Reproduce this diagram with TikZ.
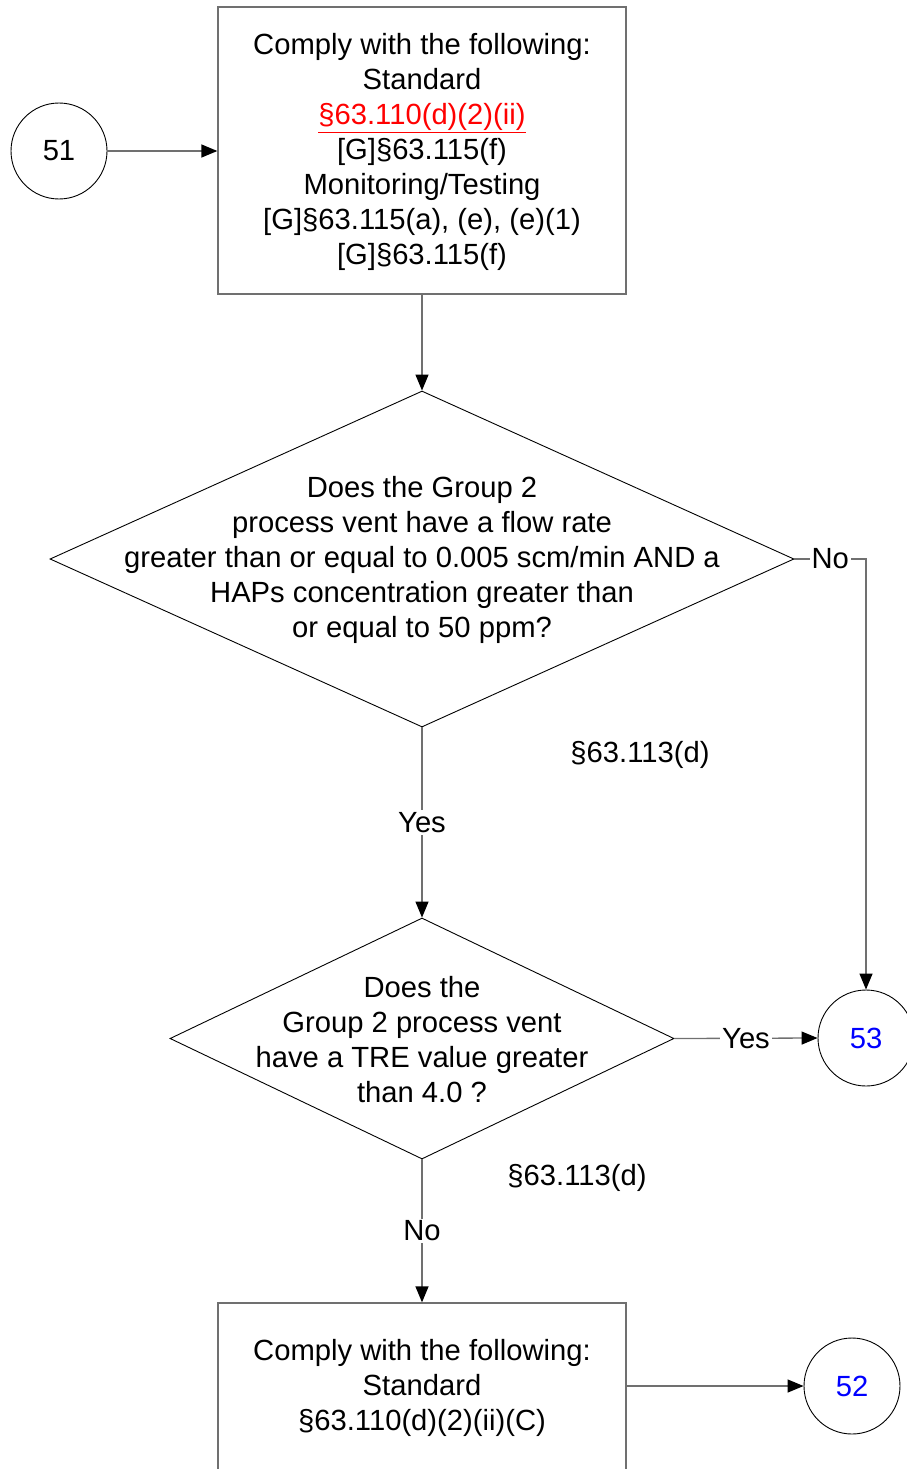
\documentclass[tikz,border=0pt]{standalone}
\usepackage{fontspec}
\setmainfont{Liberation Sans}
\usepackage{xcolor}
\usepackage{tikz}
\usetikzlibrary{arrows.meta,positioning,shapes.geometric}
\definecolor{linegray}{HTML}{707070}
\definecolor{refred}{HTML}{FF0000}
\definecolor{refblue}{HTML}{0000FF}
\tikzset{
  ar/.style={-{Triangle[length=16pt,width=13pt,color=black]},line width=1.3pt,linegray},
  box/.style={draw=linegray,line width=1.3pt,align=center,inner sep=0pt},
  dia/.style={draw,diamond,line width=0.9pt,inner sep=0pt},
  conn/.style={draw,circle,line width=0.9pt,minimum size=96pt,inner sep=0pt},
  lbl/.style={fill=white,inner sep=2pt},
  txt/.style={font=\fontsize{29.2}{35}\selectfont}
}
\begin{document}
\begin{tikzpicture}[x=1pt,y=-1pt,txt]
\useasboundingbox (0,0) rectangle (907,1469);
% connectors on the page
\node[conn] (c51) at (59,151) {51};
\node[conn,text=refblue] (c53) at (866,1038) {53};
\node[conn,text=refblue] (c52) at (852,1386) {52};
% requirement boxes
\node[box,minimum width=408pt,minimum height=287pt] (req1) at (422,150.5) {};
\node[align=center] (req1txt) at (422,152)
  {Comply with the following:\\Standard\\
   \textcolor{refred}{\underline{§63.110(d)(2)(ii)}}\\
   {[G]}§63.115(f)\\Monitoring/Testing\\{[G]}§63.115(a), (e), (e)(1)\\{[G]}§63.115(f)};
\node[box,minimum width=408pt,minimum height=170pt] (req2) at (422,1388) {};
\node[align=center] (req2txt) at (422,1388)
  {Comply with the following:\\Standard\\§63.110(d)(2)(ii)(C)};
% decisions
\node[dia,minimum width=744pt,minimum height=336pt] (flow) at (422,559) {};
\node[align=center] (flowtxt) at (422,560)
  {Does the Group 2\\process vent have a flow rate\\greater than or equal to 0.005 scm/min AND a\\HAPs concentration greater than\\or equal to 50 ppm?};
\node[dia,minimum width=504pt,minimum height=241pt] (tre) at (422,1038.5) {};
\node[align=center] (tretxt) at (422,1040)
  {Does the\\Group 2 process vent\\have a TRE value greater\\than 4.0 ?};
\node (cite1) at (640,755) {§63.113(d)};
\node (cite2) at (577,1178) {§63.113(d)};
% arrows
\draw[ar] (c51) -- (req1.west |- c51);
\draw[ar] (req1) -- (flow.north);
\draw[ar] (flow.east) -| node[lbl,pos=0.25,text=black]{No} (c53.north);
\draw[ar] (flow.south) -- node[lbl,text=black]{Yes} (tre.north);
\draw[ar] (tre.east) -- node[lbl,text=black]{Yes} (c53.west);
\draw[ar] (tre.south) -- node[lbl,text=black]{No} (req2.north);
\draw[ar] (req2.east |- c52) -- (c52.west);
\end{tikzpicture}
\end{document}
